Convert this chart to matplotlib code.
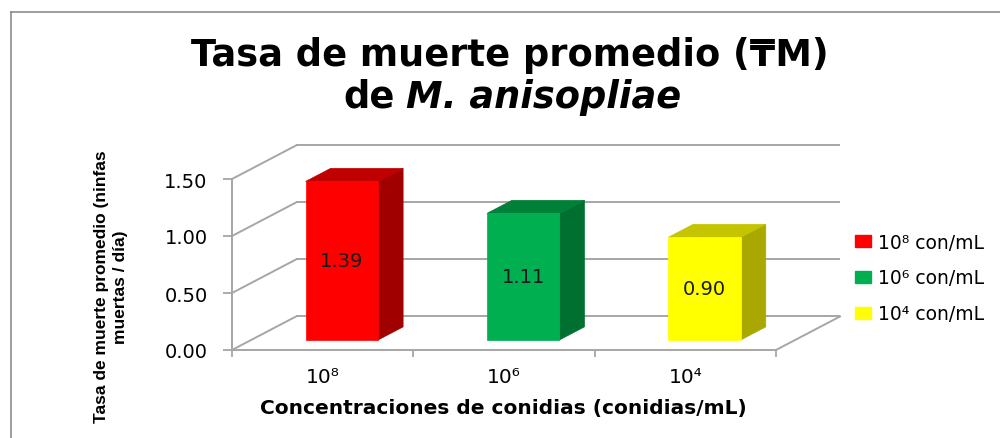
import matplotlib
matplotlib.use('Agg')
import matplotlib.pyplot as plt
from matplotlib.patches import Polygon, Patch
from matplotlib.lines import Line2D
from matplotlib import font_manager as fm

# ---------------- data ----------------
categories = ['10⁸', '10⁶', '10⁴']
values = [1.39, 1.11, 0.90]
value_labels = ['1.39', '1.11', '0.90']
legend_labels = ['10⁸ con/mL', '10⁶ con/mL', '10⁴ con/mL']
yticks = [0.0, 0.5, 1.0, 1.5]
ytick_labels = ['0.00', '0.50', '1.00', '1.50']
title_line1 = 'Tasa de muerte promedio (₸M)'
title_line2a = 'de'
title_line2b = 'M. anisopliae'
ylabel = 'Tasa de muerte promedio (ninfas\nmuertas / día)'
xlabel = 'Concentraciones de conidias (conidias/mL)'

# ---------------- styles ----------------
front_colors = ['#FF0000', '#00B050', '#FFFF00']
side_colors = ['#A00000', '#007030', '#A8A800']
top_colors = ['#C00000', '#008038', '#C4C400']
grid = '#A6A6A6'

W, H = 1000, 439
fig = plt.figure(figsize=(W / 100, H / 100), dpi=100)
fig.patch.set_facecolor('white')

ax = fig.add_axes([232 / W, 1 - 351 / H, 544 / W, 171 / H])
ax.set_xlim(-0.5, len(categories) - 0.5)
ax.set_ylim(0, 1.5)
ax.patch.set_alpha(0)

# 3D projection offsets (in data units) for full depth
DX, DY = 0.353, 0.294
D0, D1 = 0.30, 0.69   # bar depth extent
HW = 0.20             # half bar width

x_left, x_right = -0.5, len(categories) - 0.5

# back wall gridlines and left wall diagonals
for t in yticks:
    ax.plot([x_left + DX, x_right + DX], [t + DY, t + DY], color=grid, lw=1.4,
            clip_on=False, zorder=1, solid_capstyle='butt')
    ax.plot([x_left, x_left + DX], [t, t + DY], color=grid, lw=1.4,
            clip_on=False, zorder=1)
# floor right edge
ax.plot([x_right, x_right + DX], [0, DY], color=grid, lw=1.4, clip_on=False, zorder=1)

# spines
for s in ['top', 'right']:
    ax.spines[s].set_visible(False)
for s in ['left', 'bottom']:
    ax.spines[s].set_color(grid)
    ax.spines[s].set_linewidth(1.4)

ax.set_yticks(yticks, ytick_labels)
ax.tick_params(axis='y', length=6.5, width=1.3, color=grid, pad=11, labelsize=14)
ax.set_xticks(range(len(categories)), categories)
ax.tick_params(axis='x', which='major', length=0, pad=12, labelsize=14.5)
ax.set_xticks([x_left + k for k in range(len(categories) + 1)], minor=True)
ax.tick_params(axis='x', which='minor', length=5, width=1.3, color=grid)

# 3D bars
ddx, ddy = DX * (D1 - D0), DY * (D1 - D0)
for i, v in enumerate(values):
    x0 = i - HW + DX * D0
    x1 = i + HW + DX * D0
    y0 = DY * D0
    y1 = v + DY * D0
    front = [(x0, y0), (x1, y0), (x1, y1), (x0, y1)]
    side = [(x1, y0), (x1 + ddx, y0 + ddy), (x1 + ddx, y1 + ddy), (x1, y1)]
    top = [(x0, y1), (x1, y1), (x1 + ddx, y1 + ddy), (x0 + ddx, y1 + ddy)]
    for poly, c in [(side, side_colors[i]), (top, top_colors[i]), (front, front_colors[i])]:
        ax.add_patch(Polygon(poly, closed=True, facecolor=c, edgecolor=c, lw=0.5,
                             clip_on=False, zorder=3))
    ax.text(i + DX * D0, v / 2 + DY * D0, value_labels[i], ha='center', va='center',
            fontsize=14, color='#1a1a1a', zorder=5)

# axis titles
names = {f.name for f in fm.fontManager.ttflist}
if 'Liberation Sans Narrow' in names:
    yfam, ysize = 'Liberation Sans Narrow', 16.5
else:
    yfam, ysize = 'Liberation Sans', 12.5
fig.text(111 / W, 1 - 287 / H, ylabel, rotation=90, ha='center', va='center',
         multialignment='center', fontsize=ysize, fontweight='bold', family=yfam,
         linespacing=1.35)
fig.text(503 / W, 1 - 409 / H, xlabel, ha='center', va='center', fontsize=14.5,
         fontweight='bold')

# title
fig.text(510 / W, 1 - 55 / H, title_line1, ha='center', va='center', fontsize=26.5,
         fontweight='bold', family=['DejaVu Sans', 'Noto Sans'])
fig.canvas.draw()
r = fig.canvas.get_renderer()
ta = fig.text(0, 1 - 97 / H, title_line2a, ha='left', va='center', fontsize=26.5,
              fontweight='bold')
tb = fig.text(0, 1 - 97 / H, title_line2b, ha='left', va='center', fontsize=26.5,
              fontweight='bold', style='italic')
wa = ta.get_window_extent(r).width
wb = tb.get_window_extent(r).width
gap = 11
total = wa + gap + wb
start = 512 - total / 2
ta.set_x(start / W)
tb.set_x((start + wa + gap) / W)

# legend
handles = [Patch(facecolor=c, edgecolor=c) for c in front_colors]
fig.legend(handles, legend_labels, loc='center left',
           bbox_to_anchor=(855 / W, 1 - 279 / H), frameon=False, fontsize=13.5,
           handlelength=0.85, handleheight=0.6, handletextpad=0.4,
           labelspacing=0.9, borderpad=0, borderaxespad=0)

# chart frame
fig.add_artist(Line2D([11 / W, 1], [1 - 13 / H, 1 - 13 / H], transform=fig.transFigure,
                      color='#8C8C8C', lw=1.2))
fig.add_artist(Line2D([11 / W, 11 / W], [0, 1 - 13 / H], transform=fig.transFigure,
                      color='#8C8C8C', lw=1.2))

fig.savefig('out.png', dpi=100, facecolor='white')
